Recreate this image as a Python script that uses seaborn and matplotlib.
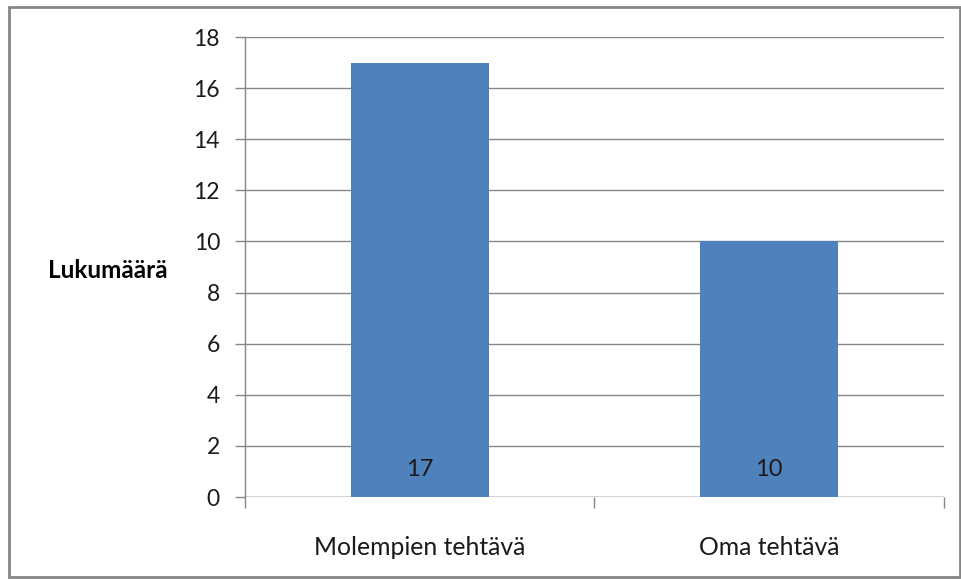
import matplotlib
matplotlib.use("Agg")
import matplotlib.pyplot as plt
import seaborn as sns
import pandas as pd
from matplotlib.patches import Rectangle

categories = ["Molempien tehtävä", "Oma tehtävä"]
values = [17, 10]
yticks = [0, 2, 4, 6, 8, 10, 12, 14, 16, 18]
ylabel = "Lukumäärä"

sns.set_theme(style="white")
plt.rcParams['font.family'] = ['Lato', 'DejaVu Sans']

df = pd.DataFrame({"cat": categories, "val": values})

fig = plt.figure(figsize=(9.62, 5.80), dpi=100)
ax = fig.add_axes([245 / 962, 1 - 497 / 580, (944 - 245) / 962, (497 - 37) / 580])

sns.barplot(data=df, x="cat", y="val", color="#4F81BD", saturation=1, width=0.395,
            linewidth=0, edgecolor="none", ax=ax, zorder=3)

ax.set_ylim(0, 18)
ax.set_xlim(-0.5, len(categories) - 0.5)
ax.set_yticks(yticks)
ax.set_yticklabels([str(t) for t in yticks], fontsize=16.5, color="#1a1a1a")
ax.yaxis.grid(True, color="#868686", linewidth=1.0, zorder=0)
ax.set_axisbelow(True)

for s in ["top", "right", "bottom"]:
    ax.spines[s].set_visible(False)
ax.spines["left"].set_color("#868686")
ax.spines["left"].set_linewidth(1.0)
ax.axhline(0, color="#868686", linewidth=1.0, zorder=2)

ax.tick_params(axis="y", which="both", left=True, length=7, width=1, color="#868686", pad=11)
ax.set_xticks([i - 0.5 for i in range(len(categories) + 1)], minor=True)
ax.tick_params(axis="x", which="minor", bottom=True, length=8, width=1, color="#868686")
ax.tick_params(axis="x", which="major", bottom=False, pad=22)
ax.set_xticks(range(len(categories)))
ax.set_xticklabels(categories, fontsize=17.8, color="#1a1a1a")

ax.set_xlabel("")
ax.set_ylabel(ylabel, rotation=0, fontsize=17.5, fontweight="bold", color="#000000",
              labelpad=0, va="center", ha="center")
ax.yaxis.set_label_coords(-0.196, 0.492)

for i, v in enumerate(values):
    ax.annotate(str(v), xy=(i, 0), xytext=(0, 19.5), textcoords="offset points",
                ha="center", va="center", fontsize=17, color="#1a1a1a", zorder=5)

fig.patches.append(Rectangle((9 / 962, 1 - 577 / 580), (960 - 9) / 962, (577 - 7) / 580,
                             transform=fig.transFigure, fill=False, edgecolor="#868686",
                             linewidth=2, zorder=0))

fig.savefig("out.png", dpi=100)
